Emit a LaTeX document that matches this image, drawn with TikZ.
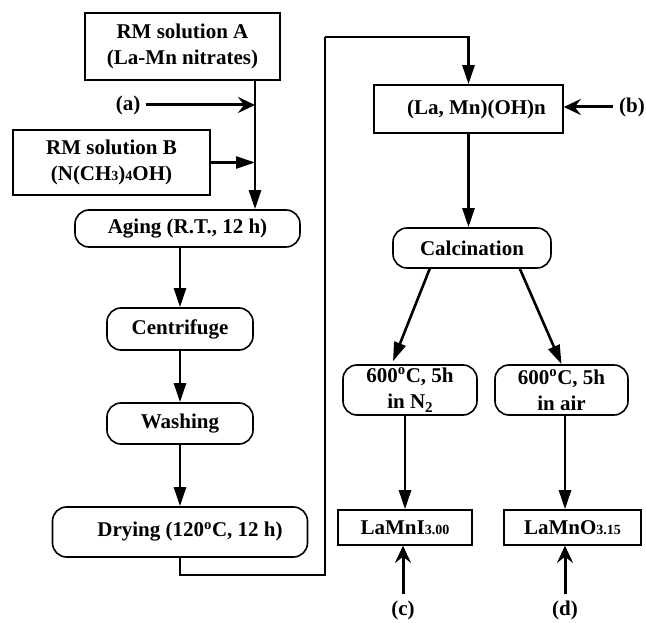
\documentclass[tikz,border=0pt]{standalone}
\usepackage{fontspec}
\setmainfont{Liberation Serif}
\usetikzlibrary{arrows.meta,calc}
\newcommand\smd[1]{{\fontsize{14}{14}\selectfont #1}}
\begin{document}
\begin{tikzpicture}[x=1pt,y=-1pt,
  every node/.style={font=\fontsize{21}{26}\selectfont\bfseries, inner sep=0pt, align=center},
  sqbox/.style={draw, line width=1.6pt, rectangle},
  rdbox/.style={draw, line width=1.6pt, rectangle, rounded corners=14pt},
  flow/.style={line width=2.6pt, -{Triangle[length=19pt,width=12pt]}},
  feed/.style={line width=3pt, -{Stealth[length=17pt,width=16pt,inset=6pt]}},
  plain/.style={line width=2.2pt}]
\useasboundingbox (0,0) rectangle (646,623);
% left column
\node[sqbox, minimum width=195pt, minimum height=67pt] (A) at (182.5,46.5) {RM solution A\\(La-Mn nitrates)};
\node[sqbox, minimum width=197pt, minimum height=65pt] (B) at (111.5,162.5) {RM solution B\\(N(CH\smd{3})\smd{4}OH)};
\node[rdbox, minimum width=225pt, minimum height=37pt] (aging) at (187.5,228.5) {Aging (R.T., 12 h)};
\node[rdbox, minimum width=146pt, minimum height=42pt] (centr) at (180,329) {Centrifuge};
\node[rdbox, minimum width=146pt, minimum height=41pt] (wash) at (180,423.5) {Washing};
\node[rdbox, minimum width=255pt, minimum height=50pt] (dry) at (180,532) {\hspace*{20pt}Drying (120\textsuperscript{o}C, 12 h)};
\node (a) at (128,105) {(a)};
\coordinate (jx) at (255,80);
% right column
\node[sqbox, minimum width=189pt, minimum height=48pt] (laoh) at (468.5,109) {\hspace*{16pt}(La, Mn)(OH)n};
\node (b) at (632,107) {(b)};
\node[rdbox, minimum width=158pt, minimum height=40pt] (calc) at (472,248) {Calcination};
\node[rdbox, minimum width=134pt, minimum height=50pt] (n2) at (410,390) {600\textsuperscript{o}C, 5h\\in N\raisebox{-4pt}{\fontsize{15}{15}\selectfont 2}};
\node[rdbox, minimum width=133pt, minimum height=50pt] (air) at (561.5,390) {600\textsuperscript{o}C, 5h\\in air};
\node[sqbox, minimum width=134pt, minimum height=35pt] (lami) at (405,527.5) {LaMnI\smd{3.00}};
\node[sqbox, minimum width=137pt, minimum height=35pt] (lamo) at (572.5,527.5) {LaMnO\smd{3.15}};
\node (c) at (403,610) {(c)};
\node (d) at (565,610) {(d)};
\coordinate (r1) at (325,575);
\coordinate (r2) at (325,37);
% connectors
\draw[flow] (A.south -| jx) -- (aging.north -| jx);
\draw[feed] (a.east) ++(6,0) -- (a.east -| jx);
\draw[flow] (B.east) -- (B.east -| jx);
\draw[flow] (centr.north |- aging.south) -- (centr.north);
\draw[flow] (centr.south) -- (wash.north);
\draw[flow] (wash.south) -- (dry.north);
\draw[plain] (dry.south) |- (r1) -- (r2);
\draw[flow] (r2) -| (laoh.north);
\draw[feed] (b.west) ++(-6,0) -- (b.west -| laoh.east);
\draw[flow] (laoh.south) -- (calc.north -| laoh.south);
\draw[flow] ($(calc.south west)!0.235!(calc.south east)$) -- ($(n2.north)+(-17,-3)$);
\draw[flow] ($(calc.south west)!0.80!(calc.south east)$) -- (air.north);
\draw[flow] (lami.north |- n2.south) -- (lami.north);
\draw[flow] (air.south -| d) -- (lamo.north -| d);
\draw[feed] (c.north) ++(0,-6) -- (lami.south -| c);
\draw[feed] (d.north) ++(0,-6) -- (lamo.south -| d);
\end{tikzpicture}
\end{document}
